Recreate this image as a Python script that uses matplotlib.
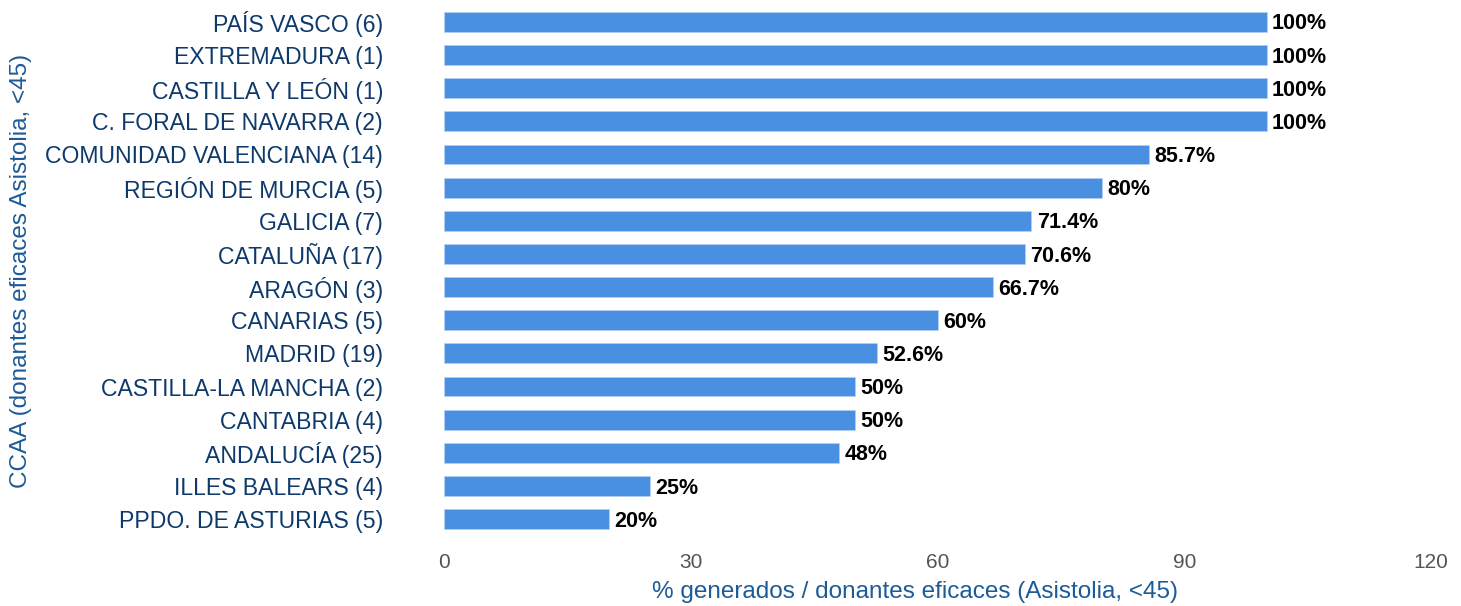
import matplotlib.pyplot as plt

# data (top to bottom)
regions = ['PAÍS VASCO (6)', 'EXTREMADURA (1)', 'CASTILLA Y LEÓN (1)',
           'C. FORAL DE NAVARRA (2)', 'COMUNIDAD VALENCIANA (14)',
           'REGIÓN DE MURCIA (5)', 'GALICIA (7)', 'CATALUÑA (17)',
           'ARAGÓN (3)', 'CANARIAS (5)', 'MADRID (19)',
           'CASTILLA-LA MANCHA (2)', 'CANTABRIA (4)', 'ANDALUCÍA (25)',
           'ILLES BALEARS (4)', 'PPDO. DE ASTURIAS (5)']
pct = [100, 100, 100, 100, 85.7, 80, 71.4, 70.6, 66.7, 60, 52.6, 50, 50, 48, 25, 20]
xticks = [0, 30, 60, 90, 120]

BAR = '#4a90e2'
NAVY = '#0e3a6b'
TITLE = '#1d5b97'

plt.rcParams['font.family'] = ['Liberation Sans', 'DejaVu Sans']

fig = plt.figure(figsize=(14.61, 6.06), dpi=100)
ax = fig.add_axes([444 / 1461, 67 / 606, 987 / 1461, 537 / 606])

ypos = list(range(len(regions), 0, -1))
bars = ax.barh(ypos, pct, height=0.6, color=BAR, edgecolor='#b8d3f3', linewidth=0.4)

# value labels, nudged a touch below bar centre like the reference
labels = [f'{v:g}%' for v in pct]
for y, v, lab in zip(ypos, pct, labels):
    ax.annotate(lab, (v, y), xytext=(4, -1.5), textcoords='offset points',
                ha='left', va='center', fontsize=15.5, fontweight='bold', color='black')

ax.set_xlim(0, 120)
ax.set_ylim(0.4, len(regions) + 0.6)
ax.set_yticks(ypos)
ax.set_yticklabels(regions, fontsize=16.6, color=NAVY)
ax.set_xticks(xticks)
ax.set_xticklabels([str(t) for t in xticks], fontsize=15, color='#555555')
ax.tick_params(axis='y', length=0, pad=44)
ax.tick_params(axis='x', length=0, pad=10)

for s in ax.spines.values():
    s.set_visible(False)

ax.set_xlabel('% generados / donantes eficaces (Asistolia, <45)', fontsize=17.5, color=TITLE)
ax.xaxis.set_label_coords((914.5 - 444) / 987, -0.078)
ax.set_ylabel('CCAA (donantes eficaces Asistolia, <45)', fontsize=17.5, color=TITLE)
ax.yaxis.label.set_va('center')
ax.yaxis.set_label_coords((21 - 444) / 987, 0.5)

fig.savefig('out.png', dpi=100)
